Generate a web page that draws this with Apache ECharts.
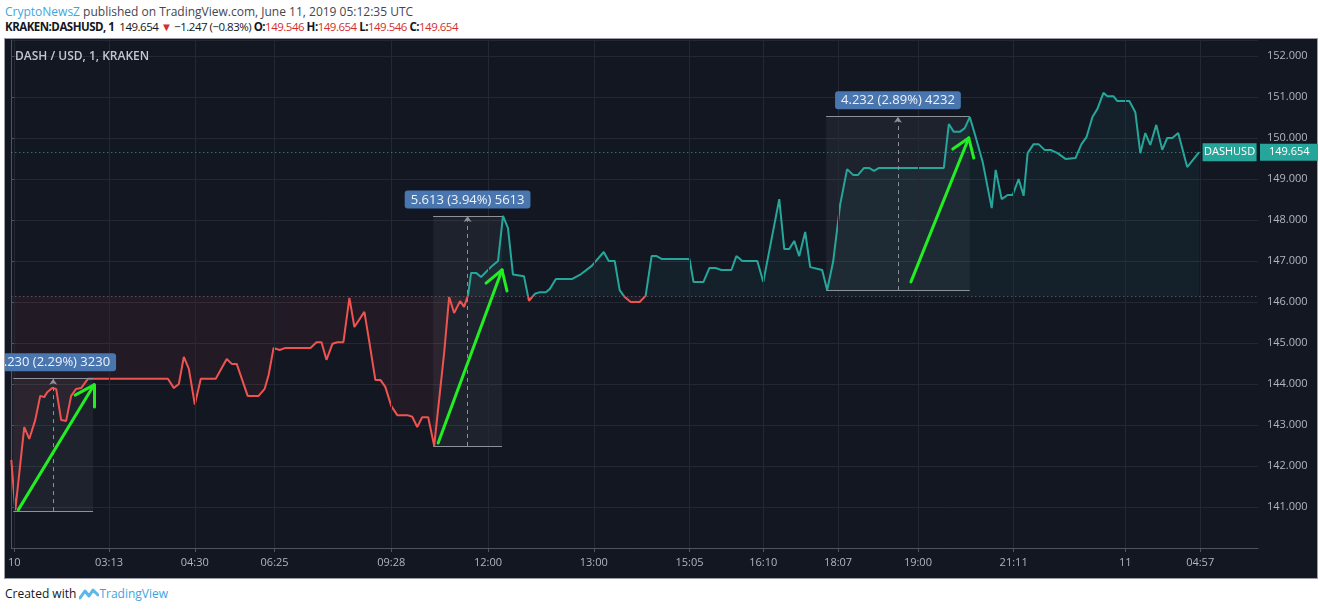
<!DOCTYPE html>
<html><head><meta charset="utf-8">
<script src="https://cdn.jsdelivr.net/npm/echarts/dist/echarts.min.js"></script>
<style>
body{margin:0;width:1320px;height:610px;background:#fff;font-family:'Open Sans',sans-serif;overflow:hidden;position:relative}
#h1{position:absolute;left:5px;top:3px;font-size:12px;color:#434651;white-space:nowrap}
#h1 .brand{color:#3aa8e0}
#h2{position:absolute;left:5px;top:19px;font-size:11.5px;letter-spacing:-0.5px;color:#131722;white-space:nowrap}
#h2 b{font-weight:700}
#h2 .r{color:#d32f2f}
#panel{position:absolute;left:4px;top:38px;width:1314px;height:541px;background:#131722;border:1px solid #9b9ea6;box-sizing:border-box}
#chart{position:absolute;left:5px;top:38px;width:1313px;height:540px}
#foot{position:absolute;left:5px;top:585px;font-size:12px;color:#131722;white-space:nowrap;display:flex;align-items:center}
#foot .tv{color:#3ea4e0}
</style></head>
<body>
<div id="h1"><span class="brand">CryptoNewsZ</span> published on TradingView.com, June 11, 2019 05:12:35 UTC</div>
<div id="h2"><b>KRAKEN:DASHUSD, 1</b>&nbsp; 149.654 <span class="r">▼</span> −1.247 (−0.83%) <b>O:</b><span class="r">149.546</span> <b>H:</b><span class="r">149.654</span> <b>L:</b><span class="r">149.546</span> <b>C:</b><span class="r">149.654</span></div>
<div id="panel"></div>
<div id="chart"></div>
<div id="foot">Created with&nbsp;<svg width="20" height="14" viewBox="0 0 20 14"><path d="M1 11 L6 4 L10 9 L14 3 L19 8" fill="none" stroke="#5cb8ec" stroke-width="3" stroke-linejoin="round" stroke-linecap="round"/></svg><span class="tv">TradingView</span></div>
<script>
// x positions are bar slots along the time axis (irregular session times)
const tickSlots  = [0.6, 19.6, 36.8, 52.8, 76.2, 95.6, 116.8, 136, 150.8, 165.8, 181.8, 201, 223.4, 238.4];
const tickLabels = ['10','03:13','04:30','06:25','09:28','12:00','13:00','15:05','16:10','18:07','19:00','21:11','11','04:57'];

const slots = [0,0.8,2.6,3.6,4.8,5.8,6.6,7.2,8.2,9,
  10,11,12,13,14,15.4,31.4,32.6,33.6,34.6,
  35.6,36.8,38,41,43.2,44.2,45.2,47.4,49.6,50.8,
  51.6,52.6,53.8,55,60,61.2,62.2,63.2,64.4,65.4,
  66.6,67.8,68.8,70.8,71.8,73,74,75,76.2,77.4,
  79.4,80.4,81.4,82.4,83.6,84.8,86.8,87.8,88.8,90,
  90.8,91.6,92.2,93.2,94.2,96.4,97.6,98.6,99.6,100.6,
  102.8,103.8,105,106,107.2,108,109.2,112.4,114,116.4,
  118.8,119.8,121,122,123,124.2,126,127.2,128.4,129.4,
  130.4,136,136.8,138.8,140,141.2,142.4,144.4,145.4,146.6,
  149.6,150.8,154,155,156,157,158,159.2,160.2,162,
  162.6,163.6,164.8,166.2,167.6,168.8,169.8,171,172,173,
  174,187,188,189,190.2,191.2,192.2,193.4,194.8,196.6,
  197.4,198.6,199.8,200.8,202,203,203.8,205,206,207.2,
  208.4,209.8,211.4,213.4,214.6,215.6,216.8,217.8,219,219.8,
  221,221.8,224.2,225.4,226.4,227.4,228.4,229.6,230.8,231.8,
  232.8,234,235.8,238.2];
const prices = [142.15,140.92,142.95,142.66,143.12,143.71,143.68,143.80,143.90,143.88,
  143.12,143.10,143.71,143.88,143.90,144.13,144.13,143.90,144.00,144.66,
  144.37,143.50,144.13,144.13,144.61,144.49,144.49,143.71,143.71,143.88,
  144.22,144.88,144.83,144.88,144.88,145.02,145.02,144.59,144.98,145.02,
  145.02,146.10,145.39,145.76,145.02,144.10,144.10,143.93,143.46,143.24,
  143.24,143.20,142.95,143.19,143.19,142.49,144.76,146.12,145.73,146.02,
  145.88,146.17,146.71,146.71,146.61,146.88,147.00,148.10,147.80,146.67,
  146.63,146.03,146.20,146.24,146.24,146.32,146.56,146.56,146.66,146.88,
  147.22,147.00,147.00,146.29,146.12,146.00,146.00,146.15,147.12,147.12,
  147.05,147.05,146.49,146.49,146.83,146.83,146.78,146.78,147.12,147.00,
  147.00,146.49,148.51,147.29,147.29,147.49,147.12,147.71,146.85,146.80,
  146.78,146.29,146.98,148.37,149.24,149.10,149.10,149.27,149.27,149.20,
  149.27,149.27,150.34,150.15,150.15,150.24,150.51,150.02,149.41,148.29,
  149.22,148.51,148.61,148.61,149.00,148.59,149.63,149.85,149.85,149.71,
  149.71,149.63,149.49,149.51,149.85,150.02,150.51,150.71,151.10,151.02,
  151.02,150.90,150.90,150.63,149.63,150.12,149.83,150.32,149.71,150.00,
  150.00,150.12,149.29,149.654];

const BASE = 146.14;     // baseline of the baseline-style series
const LAST = 149.654;    // last price

// price-range measurement annotations
const rangeTexts = ['3.230 (2.29%) 3230', '5.613 (3.94%) 5613', '4.232 (2.89%) 4232'];
const rangeFrom  = [0.4, 84.6, 163.4];
const rangeTo    = [16.4, 98.4, 192.2];
const rangeLow   = [140.90, 142.49, 146.29];
const rangeHigh  = [144.13, 148.10, 150.52];

// green arrows drawn on the chart: shaft start, tip, head stroke A, head stroke B
const arrowStart = [[1.4,140.93],[85.6,142.56],[180.4,146.49]];
const arrowTip   = [[16.6,143.98],[98.4,146.78],[192.0,150.00]];
const arrowHeadA = [[12.8,143.73],[95.2,146.46],[188.8,149.73]];
const arrowHeadB = [[16.6,143.44],[99.4,146.27],[193.0,149.51]];

const UP = '#26a69a', DOWN = '#ef5350';
const chart = echarts.init(document.getElementById('chart'), null, {renderer:'canvas'});
const axisText = '#b2b5be';
const gridCol = '#242833';

const lineData = slots.map((s,i)=>[s, prices[i]]);
const ctr = rangeFrom.map((a,i)=>(a+rangeTo[i])/2);

const rangeLines = [];
rangeFrom.forEach((a,i)=>{
  rangeLines.push([{coord:[a,rangeHigh[i]]},{coord:[rangeTo[i],rangeHigh[i]]}]);
  rangeLines.push([{coord:[a,rangeLow[i]]},{coord:[rangeTo[i],rangeLow[i]]}]);
  rangeLines.push([{coord:[ctr[i],rangeLow[i]],lineStyle:{type:[4,4]}},{coord:[ctr[i],rangeHigh[i]],symbol:'arrow',symbolSize:[6,6]}]);
});
const arrowLines = [];
arrowStart.forEach((s,i)=>{
  arrowLines.push([{coord:s},{coord:arrowTip[i]}]);
  arrowLines.push([{coord:arrowHeadA[i]},{coord:arrowTip[i]}]);
  arrowLines.push([{coord:arrowHeadB[i]},{coord:arrowTip[i]}]);
});

chart.setOption({
  animation:false,
  backgroundColor:'transparent',
  textStyle:{fontFamily:"'Open Sans', sans-serif"},
  title:{text:'DASH / USD, 1, KRAKEN', left:5, top:8,
    textStyle:{color:'#c3c6ce', fontSize:12, fontWeight:600, fontFamily:"'Open Sans', sans-serif"}},
  grid:{left:3, right:60, top:2, bottom:30},
  xAxis:{type:'value', min:0, max:250,
    axisLine:{show:true, lineStyle:{color:'#50535e'}},
    axisTick:{show:true, customValues:tickSlots, length:4, lineStyle:{color:'#50535e'}},
    axisLabel:{customValues:tickSlots, color:axisText, fontSize:11, margin:9,
      formatter:(v)=>{const i=tickSlots.findIndex(t=>Math.abs(t-v)<1e-6);return i>=0?tickLabels[i]:'';}},
    splitLine:{show:false}},
  yAxis:{type:'value', position:'right', min:140, max:152.39, interval:1,
    axisLine:{show:true, lineStyle:{color:'#50535e'}},
    axisTick:{show:true, length:4, lineStyle:{color:'#50535e'}},
    axisLabel:{color:axisText, fontSize:11, margin:9, showMaxLabel:false, showMinLabel:false,
      formatter:(v)=>v.toFixed(3)},
    splitLine:{show:true, lineStyle:{color:gridCol}}},
  series:[
    {type:'line', data:[], z:1, silent:true,
      markLine:{silent:true, symbol:['none','none'], label:{show:false},
        lineStyle:{color:gridCol, type:'solid', width:1},
        data:tickSlots.map(s=>({xAxis:s}))},
      markArea:{silent:true, itemStyle:{color:'rgba(175,180,205,0.07)'},
        data:rangeFrom.map((a,i)=>[{coord:[a,rangeLow[i]]},{coord:[rangeTo[i],rangeHigh[i]]}])}
    },
    {type:'line', data:lineData, z:3, symbol:'none', showSymbol:false, clip:true,
      lineStyle:{width:2, color:UP},
      areaStyle:{origin:BASE, opacity:0.07, color:UP}
    },
    {type:'line', data:[], z:4, silent:true, clip:false,
      markLine:{silent:true, symbol:['none','none'], label:{show:false}, animation:false,
        lineStyle:{color:'#8e9199', type:'solid', width:1},
        data:[
          {yAxis:BASE, lineStyle:{color:'#6a6d78', type:[1,3], width:1}},
          {yAxis:LAST, lineStyle:{color:UP, type:[1,3], width:1},
            label:{show:true, position:'end', distance:2, formatter:LAST.toFixed(3),
              backgroundColor:UP, color:'#ffffff', fontSize:11, padding:[3,9,3,9]}},
          ...rangeLines]},
      markPoint:{silent:true, data:[
        ...ctr.map((c,i)=>({coord:[c,rangeHigh[i]], symbol:'rect', symbolSize:[1,1],
          itemStyle:{color:'rgba(0,0,0,0)'},
          label:{show:true, position:'top', distance:7, formatter:rangeTexts[i],
            backgroundColor:'#4a76b0', color:'#eef2f8', fontSize:13, padding:[3,6,2,6], borderRadius:3}})),
        {coord:[244.3, LAST], symbol:'rect', symbolSize:[54,18], itemStyle:{color:UP},
          label:{show:true, position:'inside', formatter:'DASHUSD', color:'#ffffff', fontSize:11}}
      ]}
    },
    {type:'line', data:[], z:5, silent:true, clip:false,
      markLine:{silent:true, symbol:['none','none'], label:{show:false},
        lineStyle:{color:'#22ee22', type:'solid', width:3, cap:'round'},
        data:arrowLines}
    }
  ]
});

// colour the line red below the baseline and teal above, using the axis scale
const H = chart.getHeight();
const yb = chart.convertToPixel({yAxisIndex:0}, BASE);
const f = Math.min(1, Math.max(0, yb / H));
const grad = () => new echarts.graphic.LinearGradient(0, 0, 0, H, [
  {offset:0, color:UP}, {offset:f, color:UP}, {offset:f, color:DOWN}, {offset:1, color:DOWN}], true);
chart.setOption({series:[{}, {lineStyle:{color:grad()}, areaStyle:{color:grad()}}]});
</script>
</body></html>
